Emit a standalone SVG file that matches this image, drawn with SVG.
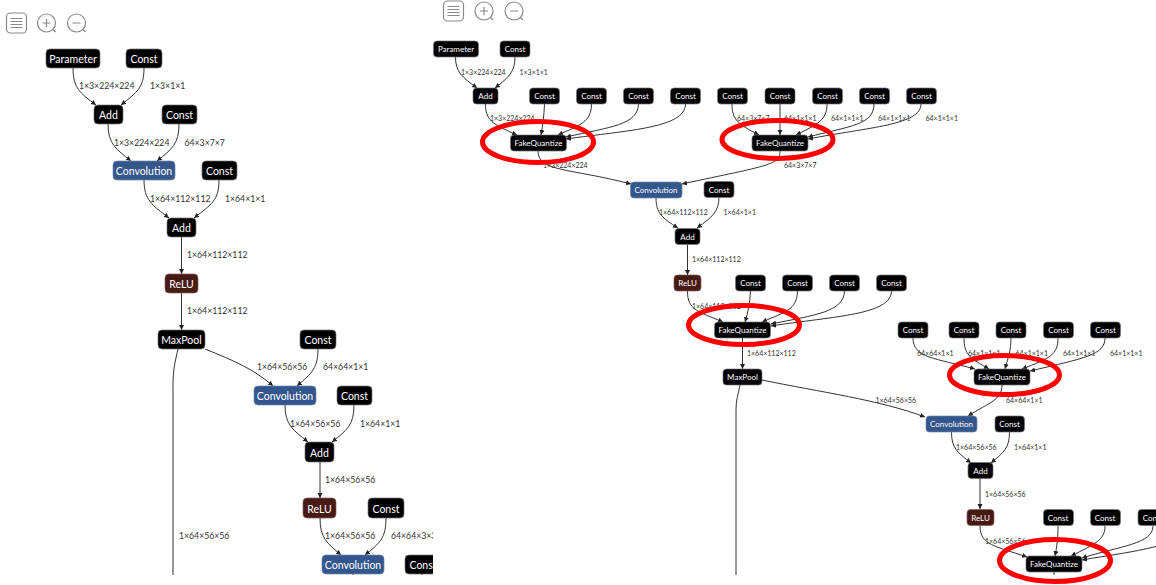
<svg xmlns="http://www.w3.org/2000/svg" width="1156" height="585" viewBox="0 0 1156 585">
<style>
text{font-family:"Lato","Noto Sans","Liberation Sans",sans-serif}
.b rect{fill:#000;stroke:#777;stroke-width:.7}
.c rect{fill:#33568c;stroke:#6f86a8;stroke-width:.7}
.r rect{fill:#481a14;stroke:#84605b;stroke-width:.7}
.L text{font-size:10.500px;fill:#fff;text-anchor:middle}
.S text{font-size:8px;fill:#fff;text-anchor:middle}
.l1{font-size:8.700px;fill:#333}
.l2{font-size:7px;fill:#333}
.e path{fill:none;stroke:#333;stroke-width:1}
.e .a{marker-end:url(#arr)}
.i *{fill:none;stroke:#8a8a8a;stroke-width:1.2}
.ring{fill:none;stroke:#f00;stroke-width:5}
</style>
<defs>
<marker id="arr" markerUnits="userSpaceOnUse" markerWidth="6" markerHeight="6" refX="5" refY="2.5" orient="auto"><path d="M0,0L5,2.5L0,5Z" fill="#222"/></marker>
<clipPath id="cl"><rect x="0" y="30" width="433" height="545"/></clipPath>
<clipPath id="cr"><rect x="433" y="30" width="723" height="545"/></clipPath>
<g id="ic"><rect x="-10" y="-10" width="20" height="20" rx="4"/><path d="M-6,-4.500H6M-6,-1.500H6M-6,1.500H6M-6,4.500H6"/></g>
<g id="ip"><circle r="9"/><path d="M-4,0H4M0,-4V4M6.500,6.500L9,9"/></g>
<g id="im"><circle r="9"/><path d="M-4,0H4M6.500,6.500L9,9"/></g>
</defs>
<g id="toolbars" class="i">
<use href="#ic" x="16.500" y="23"/><use href="#ip" x="46.500" y="23"/><use href="#im" x="76.500" y="23"/>
<use href="#ic" x="453.500" y="11"/><use href="#ip" x="484" y="11"/><use href="#im" x="514" y="11"/>
</g>
<g clip-path="url(#cl)">
<g id="connectors-left" class="e">
<path class="a" d="M73,68C73,88 80,93 96,105"/>
<path class="a" d="M144,68C144,88 137,92 121,105"/>
<path class="a" d="M108,124C108,144 116,149 131,161"/>
<path class="a" d="M179,124C179,144 172,149 157,161"/>
<path class="a" d="M144,180C144,200 152,205 169,218"/>
<path class="a" d="M219,180C219,200 212,204 194,218"/>
<path class="a" d="M181.500,237V274"/>
<path class="a" d="M181.500,293V330"/>
<path class="a" d="M205,349C235,361 255,370 273,386"/>
<path class="a" d="M318,349C318,368 312,373 297,386"/>
<path class="a" d="M285,405C285,425 293,430 308,442"/>
<path class="a" d="M354,405C354,425 347,430 332,442"/>
<path class="a" d="M320,462V498"/>
<path class="a" d="M320,518C320,538 327,543 341,555"/>
<path class="a" d="M386,518C386,538 380,543 365,555"/>
<path d="M178,349C175,362 173,370 173,385V575"/>
<path d="M353,574V576M422,574V576"/>
</g>
<g id="labels-left" class="l1">
<text x="79" y="89">1×3×224×224</text><text x="150" y="89">1×3×1×1</text>
<text x="114" y="146">1×3×224×224</text><text x="184.500" y="146">64×3×7×7</text>
<text x="150" y="202">1×64×112×112</text><text x="225" y="202">1×64×1×1</text>
<text x="187" y="258">1×64×112×112</text><text x="187" y="314">1×64×112×112</text>
<text x="257" y="370">1×64×56×56</text><text x="323" y="370">64×64×1×1</text>
<text x="290" y="427">1×64×56×56</text><text x="360" y="427">1×64×1×1</text>
<text x="325" y="483">1×64×56×56</text><text x="179" y="539">1×64×56×56</text>
<text x="325" y="539">1×64×56×56</text><text x="391" y="539">64×64×3×3</text>
</g>
<g class="L">
<g id="l-param" class="b"><rect x="46" y="49" width="54" height="19" rx="4"/><text x="73" y="63">Parameter</text></g>
<g id="l-const1" class="b"><rect x="126" y="49" width="36" height="19" rx="4"/><text x="144" y="63">Const</text></g>
<g id="l-add1" class="b"><rect x="94" y="105" width="29" height="19" rx="4"/><text x="108.500" y="119">Add</text></g>
<g id="l-const2" class="b"><rect x="162" y="105" width="35" height="19" rx="4"/><text x="179.500" y="119">Const</text></g>
<g id="l-conv1" class="c"><rect x="113" y="161" width="62" height="19" rx="4"/><text x="144" y="175">Convolution</text></g>
<g id="l-const3" class="b"><rect x="202" y="161" width="35" height="19" rx="4"/><text x="219.500" y="175">Const</text></g>
<g id="l-add2" class="b"><rect x="167" y="218" width="29" height="19" rx="4"/><text x="181.500" y="232">Add</text></g>
<g id="l-relu1" class="r"><rect x="165" y="274" width="33" height="19" rx="4"/><text x="181.500" y="288">ReLU</text></g>
<g id="l-maxpool" class="b"><rect x="158" y="330" width="47" height="19" rx="4"/><text x="181.500" y="344">MaxPool</text></g>
<g id="l-const4" class="b"><rect x="300" y="330" width="36" height="19" rx="4"/><text x="318" y="344">Const</text></g>
<g id="l-conv2" class="c"><rect x="254" y="386" width="62" height="19" rx="4"/><text x="285" y="400">Convolution</text></g>
<g id="l-const5" class="b"><rect x="337" y="386" width="35" height="19" rx="4"/><text x="354.500" y="400">Const</text></g>
<g id="l-add3" class="b"><rect x="305" y="442" width="29" height="20" rx="4"/><text x="319.500" y="457">Add</text></g>
<g id="l-relu2" class="r"><rect x="303" y="498" width="33" height="20" rx="4"/><text x="319.500" y="513">ReLU</text></g>
<g id="l-const6" class="b"><rect x="368" y="498" width="36" height="20" rx="4"/><text x="386" y="513">Const</text></g>
<g id="l-conv3" class="c"><rect x="322" y="555" width="62" height="19" rx="4"/><text x="353" y="569">Convolution</text></g>
<g id="l-const7" class="b"><rect x="405" y="555" width="36" height="19" rx="4"/><text x="423" y="569">Const</text></g>
</g>
</g>
<g clip-path="url(#cr)">
<g id="connectors-right" class="e">
<path class="a" d="M455.500,57C455.500,72 462,77 477,88"/>
<path class="a" d="M515,57C515,72 509,77 495,88"/>
<path class="a" d="M485.500,104C485.500,120 492,124 517,135"/>
<path class="a" d="M544.500,104C544,115 543,125 541,135"/>
<path class="a" d="M591.500,104C591.500,122 580,125 558,135"/>
<path class="a" d="M638.500,104C638,125 610,127 566,137"/>
<path class="a" d="M685.500,104C685,128 630,130 566,139"/>
<path class="a" d="M732,104C732,120 738,124 759,135"/>
<path class="a" d="M780,104V135"/>
<path class="a" d="M827,104C827,120 818,124 796,135"/>
<path class="a" d="M874,104C874,125 850,126 808,137"/>
<path class="a" d="M921,104C921,125 870,127 808,139"/>
<path class="a" d="M538,151C538,172 570,168 631,184"/>
<path class="a" d="M780,151C780,165 770,165 682,184"/>
<path class="a" d="M656,198C656,213 662,218 678,228"/>
<path class="a" d="M719,197C719,212 712,217 697,228"/>
<path class="a" d="M687.500,245V275"/>
<path class="a" d="M687.500,291C687.500,310 697,311 723,322"/>
<path class="a" d="M750.500,291C750,303 748,312 745,322"/>
<path class="a" d="M797.500,291C797,310 785,312 762,322"/>
<path class="a" d="M844.500,291C844,312 815,315 771,324"/>
<path class="a" d="M891.500,291C891,315 835,316 771,326"/>
<path class="a" d="M742.500,338V369"/>
<path class="a" d="M762,380C820,392 880,400 925,417"/>
<path d="M740,385C738,395 736,400 736,410V575"/>
<path class="a" d="M913,338C913,358 935,358 975,369"/>
<path class="a" d="M964,338C964,355 970,358 989,369"/>
<path class="a" d="M1011,338C1011,350 1008,358 1005,369"/>
<path class="a" d="M1058,338C1058,355 1050,358 1022,369"/>
<path class="a" d="M1105,338C1105,355 1085,358 1030,371"/>
<path class="a" d="M1002,385C1002,400 990,402 968,416"/>
<path class="a" d="M951.500,432C951.500,448 957,452 971,463"/>
<path class="a" d="M1009.500,432C1009.500,448 1004,452 991,463"/>
<path class="a" d="M980,478V509"/>
<path class="a" d="M980,526C980,545 995,546 1027,557"/>
<path class="a" d="M1058,526C1058,538 1057,546 1055,556"/>
<path class="a" d="M1105,526C1105,540 1095,544 1071,556"/>
<path class="a" d="M1153,526C1153,544 1120,546 1082,558"/>
<path class="a" d="M1158,546C1130,553 1110,555 1082,560"/>
<path d="M1054,572V576"/>
</g>
<g id="labels-right" class="l2">
<text x="461" y="75">1×3×224×224</text><text x="519.500" y="75">1×3×1×1</text>
<text x="490" y="121">1×3×224×224</text><text x="543" y="168">1×3×224×224</text>
<text x="737" y="121">64×3×7×7</text><text x="784" y="121">64×1×1×1</text><text x="831" y="121">64×1×1×1</text><text x="878" y="121">64×1×1×1</text><text x="925.500" y="121">64×1×1×1</text>
<text x="784" y="168">64×3×7×7</text>
<text x="659" y="215">1×64×112×112</text><text x="723.500" y="215">1×64×1×1</text>
<text x="692" y="262">1×64×112×112</text><text x="692" y="309">1×64×112×112</text>
<text x="747" y="356">1×64×112×112</text><text x="875.500" y="403">1×64×56×56</text>
<text x="917" y="356">64×64×1×1</text><text x="968" y="356">64×1×1×1</text><text x="1015.500" y="356">64×1×1×1</text><text x="1063" y="356">64×1×1×1</text><text x="1110" y="356">64×1×1×1</text>
<text x="1006" y="403">64×64×1×1</text>
<text x="956" y="450">1×64×56×56</text><text x="1014" y="450">1×64×1×1</text>
<text x="985" y="497">1×64×56×56</text><text x="985" y="544">1×64×56×56</text>
</g>
<g class="S">
<g id="r-param" class="b"><rect x="433.500" y="41" width="45" height="16" rx="3.500"/><text x="456" y="52">Parameter</text></g>
<g id="r-const1" class="b"><rect x="500" y="41" width="30" height="16" rx="3.500"/><text x="515" y="52">Const</text></g>
<g id="r-add1" class="b"><rect x="473" y="88" width="25" height="16" rx="3.500"/><text x="485.500" y="99">Add</text></g>
<g id="r-c1" class="b"><rect x="529.500" y="88" width="30" height="16" rx="3.500"/><text x="544.500" y="99">Const</text></g>
<g id="r-c2" class="b"><rect x="576.500" y="88" width="30" height="16" rx="3.500"/><text x="591.500" y="99">Const</text></g>
<g id="r-c3" class="b"><rect x="623.500" y="88" width="30" height="16" rx="3.500"/><text x="638.500" y="99">Const</text></g>
<g id="r-c4" class="b"><rect x="670.500" y="88" width="30" height="16" rx="3.500"/><text x="685.500" y="99">Const</text></g>
<g id="r-fq1" class="b"><rect x="510.500" y="135" width="56" height="16" rx="3.500"/><text x="538.500" y="146">FakeQuantize</text></g>
<g id="r-c5" class="b"><rect x="717.500" y="88" width="30" height="16" rx="3.500"/><text x="732.500" y="99">Const</text></g>
<g id="r-c6" class="b"><rect x="765" y="88" width="30" height="16" rx="3.500"/><text x="780" y="99">Const</text></g>
<g id="r-c7" class="b"><rect x="812.500" y="88" width="30" height="16" rx="3.500"/><text x="827.500" y="99">Const</text></g>
<g id="r-c8" class="b"><rect x="859.500" y="88" width="30" height="16" rx="3.500"/><text x="874.500" y="99">Const</text></g>
<g id="r-c9" class="b"><rect x="906.500" y="88" width="30" height="16" rx="3.500"/><text x="921.500" y="99">Const</text></g>
<g id="r-fq2" class="b"><rect x="752" y="135" width="56" height="16" rx="3.500"/><text x="780" y="146">FakeQuantize</text></g>
<g id="r-conv1" class="c"><rect x="630.500" y="182" width="51.500" height="16" rx="3.500"/><text x="656" y="193">Convolution</text></g>
<g id="r-c10" class="b"><rect x="704" y="181.500" width="30" height="16" rx="3.500"/><text x="719" y="192.500">Const</text></g>
<g id="r-add2" class="b"><rect x="675" y="228.500" width="25" height="16" rx="3.500"/><text x="687.500" y="239.500">Add</text></g>
<g id="r-relu1" class="r"><rect x="674" y="275" width="27" height="16" rx="3.500"/><text x="687.500" y="286">ReLU</text></g>
<g id="r-c11" class="b"><rect x="735.500" y="275" width="30" height="16" rx="3.500"/><text x="750.500" y="286">Const</text></g>
<g id="r-c12" class="b"><rect x="782.500" y="275" width="30" height="16" rx="3.500"/><text x="797.500" y="286">Const</text></g>
<g id="r-c13" class="b"><rect x="829.500" y="275" width="30" height="16" rx="3.500"/><text x="844.500" y="286">Const</text></g>
<g id="r-c14" class="b"><rect x="876.500" y="275" width="30" height="16" rx="3.500"/><text x="891.500" y="286">Const</text></g>
<g id="r-fq3" class="b"><rect x="714.500" y="322" width="56" height="16" rx="3.500"/><text x="742.500" y="333">FakeQuantize</text></g>
<g id="r-maxpool" class="b"><rect x="723" y="369" width="39" height="16" rx="3.500"/><text x="742.500" y="380">MaxPool</text></g>
<g id="r-c15" class="b"><rect x="898" y="322" width="30" height="16" rx="3.500"/><text x="913" y="333">Const</text></g>
<g id="r-c16" class="b"><rect x="949" y="322" width="30" height="16" rx="3.500"/><text x="964" y="333">Const</text></g>
<g id="r-c17" class="b"><rect x="996" y="322" width="30" height="16" rx="3.500"/><text x="1011" y="333">Const</text></g>
<g id="r-c18" class="b"><rect x="1043.500" y="322" width="30" height="16" rx="3.500"/><text x="1058.500" y="333">Const</text></g>
<g id="r-c19" class="b"><rect x="1090.500" y="322" width="30" height="16" rx="3.500"/><text x="1105.500" y="333">Const</text></g>
<g id="r-fq4" class="b"><rect x="974" y="369" width="56" height="16" rx="3.500"/><text x="1002" y="380">FakeQuantize</text></g>
<g id="r-conv2" class="c"><rect x="926" y="416" width="51" height="16" rx="3.500"/><text x="951.500" y="427">Convolution</text></g>
<g id="r-c20" class="b"><rect x="995" y="416" width="29.500" height="16" rx="3.500"/><text x="1009.500" y="427">Const</text></g>
<g id="r-add3" class="b"><rect x="968" y="462.500" width="25" height="16" rx="3.500"/><text x="980.500" y="473.500">Add</text></g>
<g id="r-relu2" class="r"><rect x="967" y="509.500" width="27" height="16" rx="3.500"/><text x="980.500" y="520.500">ReLU</text></g>
<g id="r-c21" class="b"><rect x="1043.500" y="509.500" width="30" height="16" rx="3.500"/><text x="1058" y="520.500">Const</text></g>
<g id="r-c22" class="b"><rect x="1090.500" y="509.500" width="30" height="16" rx="3.500"/><text x="1105" y="520.500">Const</text></g>
<g id="r-c23" class="b"><rect x="1138" y="509.500" width="30" height="16" rx="3.500"/><text x="1153" y="520.500">Const</text></g>
<g id="r-fq5" class="b"><rect x="1026" y="556" width="56" height="16" rx="3.500"/><text x="1054" y="567">FakeQuantize</text></g>
</g>
</g>
<g id="highlights">
<ellipse class="ring" cx="538" cy="142" rx="55.500" ry="20.500"/>
<ellipse class="ring" cx="777.500" cy="139.500" rx="55.500" ry="19"/>
<ellipse class="ring" cx="744" cy="325" rx="55.500" ry="19.500"/>
<ellipse class="ring" cx="1004.500" cy="375" rx="55" ry="19.500"/>
<ellipse class="ring" cx="1055" cy="560.500" rx="55.500" ry="21"/>
</g>
</svg>
